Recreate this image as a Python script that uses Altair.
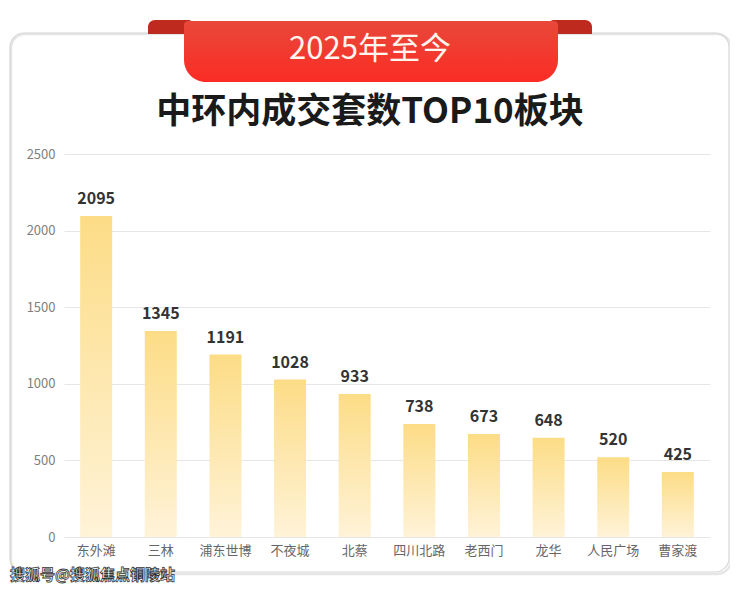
import altair as alt
import pandas as pd

categories = ["东外滩", "三林", "浦东世博", "不夜城", "北蔡", "四川北路", "老西门", "龙华", "人民广场", "曹家渡"]
values = [2095, 1345, 1191, 1028, 933, 738, 673, 648, 520, 425]
y_ticks = [0, 500, 1000, 1500, 2000, 2500]
banner_text = "2025年至今"
title_text = "中环内成交套数TOP10板块"
watermark_text = "搜狐号@搜狐焦点铜陵站"

FONT = "Noto Sans CJK SC"
df = pd.DataFrame({"板块": categories, "套数": values})
one = pd.DataFrame({"a": [0]})

W, H = 646, 383

x_enc = alt.X("板块:N", sort=categories,
              scale=alt.Scale(paddingInner=0.505, paddingOuter=0.25),
              axis=alt.Axis(title=None, labelAngle=0, labelFont=FONT, labelFontSize=13,
                            labelColor="#666666", labelPadding=7, ticks=False,
                            domain=False, grid=False))
y_enc = alt.Y("套数:Q", scale=alt.Scale(domain=[0, 2500], nice=False),
              axis=alt.Axis(title=None, values=y_ticks, format="d", labelFont=FONT,
                            labelFontSize=13, labelColor="#808080", labelPadding=9,
                            ticks=False, domain=False, gridColor="#e6e6e6", gridWidth=1))

card_shadow = alt.Chart(one).mark_rect(cornerRadius=14, fill=None, stroke="#e6e6e6",
                                       strokeWidth=2.5).encode(
    x=alt.value(-53), x2=alt.value(667), y=alt.value(-120), y2=alt.value(420))
card = alt.Chart(one).mark_rect(cornerRadius=14, fill=None, stroke="#d8d8d8",
                                strokeWidth=1.2).encode(
    x=alt.value(-54), x2=alt.value(665), y=alt.value(-121), y2=alt.value(418))

ear_l = alt.Chart(one).mark_rect(cornerRadiusTopLeft=16, cornerRadiusTopRight=6,
                                 fill="#bf2a1f").encode(
    x=alt.value(84), x2=alt.value(130), y=alt.value(-134), y2=alt.value(-120))
ear_r = alt.Chart(one).mark_rect(cornerRadiusTopRight=16, cornerRadiusTopLeft=6,
                                 fill="#bf2a1f").encode(
    x=alt.value(484), x2=alt.value(528), y=alt.value(-134), y2=alt.value(-120))

red_grad = alt.Gradient(gradient="linear", x1=0, x2=0, y1=0, y2=1,
                        stops=[alt.GradientStop(color="#e8483a", offset=0),
                               alt.GradientStop(color="#fb2c25", offset=1)])
ribbon = alt.Chart(one).mark_rect(cornerRadiusBottomLeft=22, cornerRadiusBottomRight=22,
                                  cornerRadiusTopLeft=4, cornerRadiusTopRight=4,
                                  fill=red_grad).encode(
    x=alt.value(120), x2=alt.value(494), y=alt.value(-133), y2=alt.value(-72))

banner = alt.Chart(one).mark_text(text=banner_text, font=FONT, fontSize=31,
                                  fontWeight="normal", color="#fff4ee", align="center",
                                  baseline="middle").encode(
    x=alt.value(306), y=alt.value(-104))
title = alt.Chart(one).mark_text(text=title_text, font=FONT, fontSize=35,
                                 fontWeight="bold", color="#1a1a1a", align="center",
                                 baseline="middle").encode(
    x=alt.value(306), y=alt.value(-42))

bar_grad = alt.Gradient(gradient="linear", x1=0, x2=0, y1=0, y2=1,
                        stops=[alt.GradientStop(color="#fcdc86", offset=0),
                               alt.GradientStop(color="#fff3d8", offset=1)])
bars = alt.Chart(df).mark_bar(fill=bar_grad).encode(x=x_enc, y=y_enc)
labels = alt.Chart(df).mark_text(font=FONT, fontSize=16, fontWeight="bold",
                                 color="#333333", dy=-17).encode(
    x=alt.X("板块:N", sort=categories), y="套数:Q", text="套数:Q")

watermark = alt.Chart(one).mark_text(text=watermark_text, font=FONT, fontSize=15,
                                     fontWeight="bold", fill="white", stroke="#333333",
                                     strokeWidth=0.8, align="left",
                                     baseline="middle").encode(
    x=alt.value(-54), y=alt.value(421))

chart = alt.layer(card_shadow, card, ear_l, ear_r, ribbon, banner, title,
                  bars, labels, watermark).properties(
    width=W, height=H,
    background="white",
    autosize=alt.AutoSizeParams(type="none"),
    padding={"left": 56, "top": 146, "right": 20, "bottom": 48},
).configure_view(stroke=None)

chart.save("out.html", embed_options={"renderer": "svg", "actions": False})
